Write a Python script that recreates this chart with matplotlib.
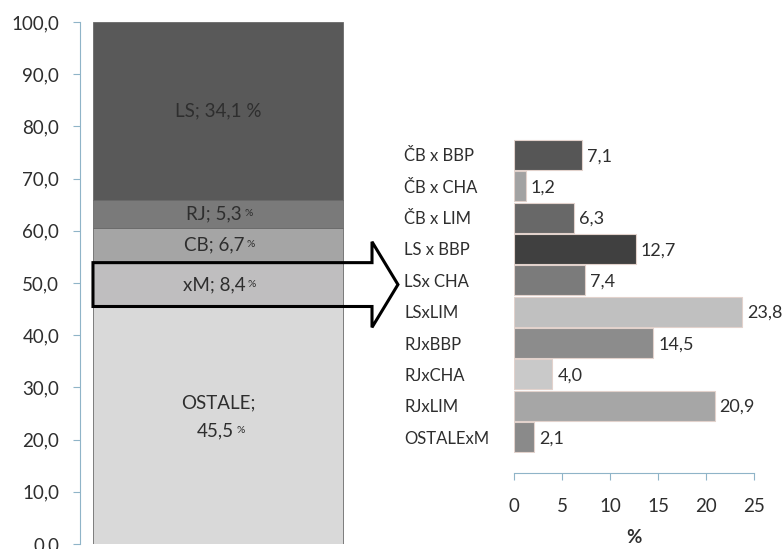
import matplotlib
matplotlib.use("Agg")
import matplotlib.pyplot as plt
from matplotlib.patches import Polygon

plt.rcParams["font.family"] = ["Lato", "DejaVu Sans"]

# stacked shares (bottom to top)
groups = ["OSTALE", "xM", "CB", "RJ", "LS"]
shares = [45.5, 8.4, 6.7, 5.3, 34.1]
group_colors = ["#d9d9d9", "#bfbebf", "#a5a5a5", "#7a7a7a", "#595959"]

# crosses within xM
crosses = ["ČB x BBP", "ČB x CHA", "ČB x LIM", "LS x BBP", "LSx CHA",
           "LSxLIM", "RJxBBP", "RJxCHA", "RJxLIM", "OSTALExM"]
cross_vals = [7.1, 1.2, 6.3, 12.7, 7.4, 23.8, 14.5, 4.0, 20.9, 2.1]
cross_colors = ["#565656", "#a2a2a2", "#686868", "#404040", "#7b7b7b",
                "#c0c0c0", "#8c8c8c", "#c9c9c9", "#a6a6a6", "#8a8a8a"]

txt = "#2e2e2e"
axis_col = "#8fb4c8"
fs = 13.5

W, H = 782, 549
fig = plt.figure(figsize=(W / 100, H / 100), dpi=100)

def fig_rect(x0, y0, x1, y1):
    # pixel box (top-left origin) -> figure fraction rect
    return [x0 / W, (H - y1) / H, (x1 - x0) / W, (y1 - y0) / H]

# ---- left: stacked column ----
ax1 = fig.add_axes(fig_rect(80, 22, 356, 544))
bottom = 0.0
bottoms = []
for g, v, c in zip(groups, shares, group_colors):
    ax1.bar(0.5, v, width=0.906, bottom=bottom, color=c,
            edgecolor="#6a6a6a", linewidth=0.6, zorder=2)
    bottoms.append(bottom)
    bottom += v

ax1.set_xlim(0, 1)
ax1.set_ylim(0, 100)
ax1.set_yticks(range(0, 101, 10))
ax1.set_yticklabels([f"{t:.1f}".replace(".", ",") for t in range(0, 101, 10)])
ax1.set_xticks([])
for s in ["top", "right", "bottom"]:
    ax1.spines[s].set_visible(False)
ax1.spines["left"].set_color(axis_col)
ax1.tick_params(axis="y", colors=axis_col, length=5, labelcolor=txt,
                labelsize=fs, pad=10)

def seg_label(b, v, name, small_pct=True, two_lines=False):
    mid = b + v / 2
    num = f"{v:.1f}".replace(".", ",")
    if not small_pct:
        ax1.text(0.5, mid, f"{name}; {num} %", ha="center", va="center",
                 fontsize=fs, color=txt, zorder=4)
        return
    if two_lines:
        ax1.text(0.5, mid + 4.25, f"{name};", ha="center", va="center",
                 fontsize=fs, color=txt, zorder=4)
        t = ax1.text(0.49, mid - 1.0, num, ha="center", va="center",
                     fontsize=fs, color=txt, zorder=4)
    else:
        t = ax1.text(0.485, mid, f"{name}; {num}", ha="center", va="center",
                     fontsize=fs, color=txt, zorder=4)
    ax1.annotate("%", xy=(1, 0), xycoords=t, xytext=(2, 3),
                 textcoords="offset points", ha="left", va="bottom",
                 fontsize=7.5, color=txt, zorder=4)

for g, v, b in zip(groups, shares, bottoms):
    if g == "LS":
        seg_label(b, v, g, small_pct=False)
    elif g == "OSTALE":
        seg_label(b, v, g, two_lines=True)
    else:
        seg_label(b, v, g)

# outline of the xM segment, pointing to the breakdown
xm_lo = bottoms[1]
xm_hi = bottoms[1] + shares[1]
xm_mid = (xm_lo + xm_hi) / 2
head = 4.0
arrow = Polygon([(0.047, xm_lo), (1.058, xm_lo), (1.058, xm_lo - head),
                 (1.152, xm_mid), (1.058, xm_hi + head), (1.058, xm_hi),
                 (0.047, xm_hi)], closed=True, fill=False,
                edgecolor="black", linewidth=2.2, joinstyle="miter",
                transform=ax1.transData, clip_on=False, zorder=5)
ax1.add_patch(arrow)

# ---- right: horizontal bars ----
ax2 = fig.add_axes(fig_rect(514, 139.3, 754, 452.7))
ypos = list(range(len(crosses)))
ax2.barh(ypos, cross_vals, height=0.95, color=cross_colors,
         edgecolor="#e2d2cc", linewidth=0.8)
for y, v in zip(ypos, cross_vals):
    ax2.annotate(f"{v:.1f}".replace(".", ","), xy=(v, y), xytext=(3.5, -1),
                 textcoords="offset points", ha="left", va="center",
                 fontsize=13, color=txt, annotation_clip=False)

ax2.set_xlim(0, 25)
ax2.set_ylim(len(crosses) - 0.5, -0.5)
ax2.set_yticks(ypos)
ax2.set_yticklabels(crosses, ha="left")
ax2.tick_params(axis="y", length=0, pad=79, labelsize=12, labelcolor=txt)
ax2.set_xticks([0, 5, 10, 15, 20, 25])
ax2.tick_params(axis="x", colors=axis_col, length=5, labelcolor=txt,
                labelsize=fs, pad=13)
for s in ["top", "right", "left"]:
    ax2.spines[s].set_visible(False)
ax2.spines["bottom"].set_position(("outward", 14.5))
ax2.spines["bottom"].set_color(axis_col)
ax2.set_xlabel("%", fontsize=fs, color=txt, fontweight="bold", labelpad=10)

fig.savefig("out.png", dpi=100)
